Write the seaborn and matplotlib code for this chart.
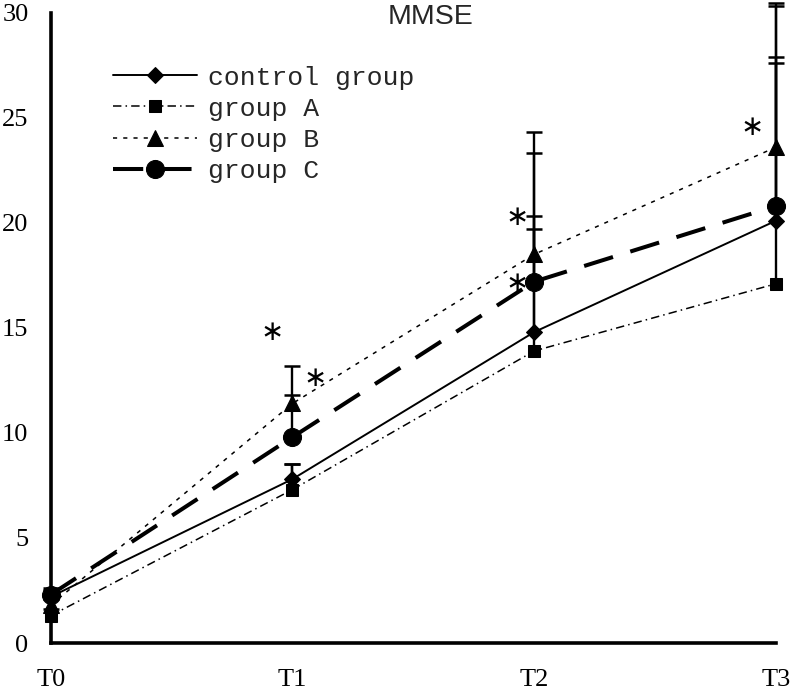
import numpy as np
import pandas as pd
import matplotlib
matplotlib.use("Agg")
import matplotlib.pyplot as plt
import seaborn as sns

# ---- data ----
timepoints = ["T0", "T1", "T2", "T3"]
groups = ["control group", "group A", "group B", "group C"]
control_mean = [2.2, 7.8, 14.8, 20.1]
groupA_mean = [1.3, 7.3, 13.9, 17.1]
groupB_mean = [1.8, 11.4, 18.5, 23.6]
groupC_mean = [2.3, 9.8, 17.2, 20.8]
control_sd = [0.3, 0.7, 5.5, 7.8]
groupA_sd = [0.3, 1.2, 5.8, 10.5]
groupB_sd = [0.3, 1.8, 5.8, 6.85]
groupC_sd = [0.3, 2.0, 6.1, 9.5]
yticks = [0, 5, 10, 15, 20, 25, 30]
title = "MMSE"
star_x = [0.915, 1.093, 1.928, 1.928, 2.90]
star_y = [14.79, 12.6, 20.26, 17.12, 24.54]

means = [control_mean, groupA_mean, groupB_mean, groupC_mean]
sds = [control_sd, groupA_sd, groupB_sd, groupC_sd]

rows = []
for g, m, s in zip(groups, means, sds):
    for i, t in enumerate(timepoints):
        rows.append({"group": g, "t": i, "label": t, "mean": m[i], "sd": s[i]})
df = pd.DataFrame(rows)

sns.set_style("white")
plt.rcParams["font.family"] = ["Liberation Serif", "DejaVu Sans"]

fig = plt.figure(figsize=(7.92, 6.92), dpi=100)
ax = fig.add_axes([50.7 / 792, (692 - 643) / 692, (776 - 50.7) / 792, (643 - 12.7) / 692])

styles = {
    "control group": dict(marker="D", markersize=8.5, lw=1.4, ls="-"),
    "group A": dict(marker="s", markersize=8.5, lw=1.1, ls=(0, (5.5, 2.7, 1.0, 2.7))),
    "group B": dict(marker="^", markersize=12, lw=1.1, ls=(0, (2.7, 4.0))),
    "group C": dict(marker="o", markersize=13, lw=2.9, ls=(0, (7.5, 4.5))),
}

# error bars (upper only)
for g in groups:
    sub = df[df["group"] == g]
    eb = ax.errorbar(sub["t"], sub["mean"], yerr=[np.zeros(len(sub)), sub["sd"].values],
                     fmt="none", ecolor="black", elinewidth=1.7, capsize=5.5, capthick=1.8,
                     zorder=2)
    caplines = eb[1]
    if len(caplines) == 2:
        caplines[0].set_visible(False)
    for c in caplines:
        c.set_clip_on(False)
    for b in eb[2]:
        b.set_clip_on(False)

for g in groups:
    sub = df[df["group"] == g]
    st = styles[g]
    sns.lineplot(data=sub, x="t", y="mean", ax=ax, color="black", marker=st["marker"],
                 markersize=st["markersize"], markeredgecolor="black", markerfacecolor="black",
                 linewidth=st["lw"], label=g, zorder=3, clip_on=False, errorbar=None)
    line = ax.get_lines()[-1]
    line.set_linestyle(st["ls"])

for x, y in zip(star_x, star_y):
    ax.text(x, y, "∗", ha="center", va="center", fontsize=20, family="DejaVu Sans", color="black")

ax.set_xlim(0, 3)
ax.set_ylim(0, 30)
ax.set_xticks(range(len(timepoints)))
ax.set_xticklabels(timepoints)
ax.set_yticks(yticks)
ax.set_yticklabels([str(v) for v in yticks])
ax.set_xlabel("")
ax.set_ylabel("")

for side in ["top", "right"]:
    ax.spines[side].set_visible(False)
for side in ["left", "bottom"]:
    ax.spines[side].set_linewidth(2.6)
    ax.spines[side].set_color("black")

ax.tick_params(axis="both", direction="in", length=4, width=1.8, colors="black",
               labelsize=19)
ax.tick_params(axis="y", pad=16)
ax.tick_params(axis="x", pad=19)

fig.text(430 / 792, 1 - 17.5 / 692, title, ha="center", va="center", fontsize=20.5,
         family="Liberation Sans")

leg = ax.legend(loc="upper left", bbox_to_anchor=(113 / 792, 1 - 65.5 / 692),
                bbox_transform=fig.transFigure, frameon=False, borderpad=0,
                borderaxespad=0, handlelength=3.2, handletextpad=0.4, labelspacing=0.27,
                prop={"family": "Liberation Mono", "size": 19})

fig.savefig("out.png", dpi=100)
